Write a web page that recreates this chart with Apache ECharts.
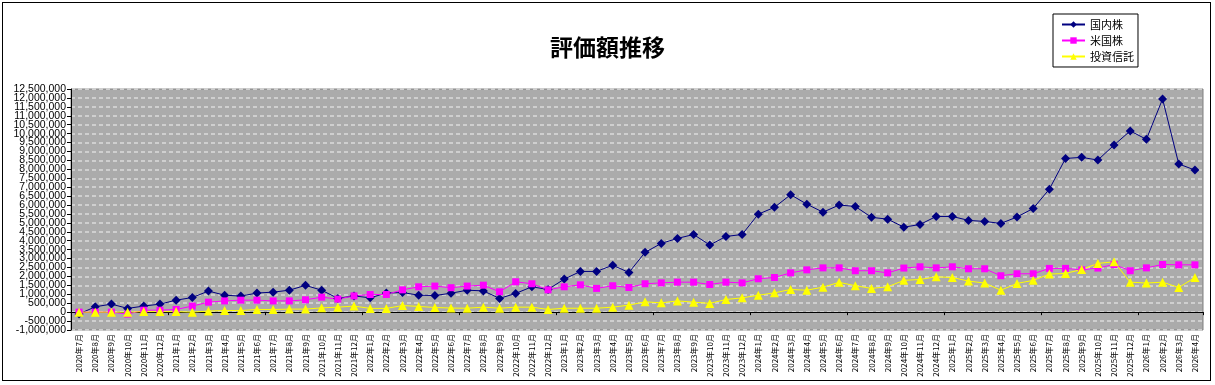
<!DOCTYPE html>
<html><head><meta charset="utf-8">
<script src="https://cdn.jsdelivr.net/npm/echarts@6/dist/echarts.min.js"></script>
<style>
html,body{margin:0;padding:0;background:#fff;}
#c{width:1215px;height:385px;position:relative;}
#frame{position:absolute;left:2px;top:2px;width:1209px;height:379px;border:1px solid #000;pointer-events:none;box-sizing:border-box;}
</style></head>
<body>
<div style="position:relative;width:1215px;height:385px;">
<div id="c"></div><div id="frame"></div>
</div>
<script>
// categories: 2020年7月 .. 2026年4月
const categories = [];
(function(){ let y=2020, m=7; for(let k=0;k<70;k++){ categories.push(y+'年'+m+'月'); m++; if(m>12){m=1;y++;} } })();

const domestic = [ // 国内株
 -100000,300000,450000,210000,340000,450000,670000,820000,1180000,950000,
 900000,1070000,1120000,1230000,1500000,1230000,770000,910000,800000,1070000,
 1100000,950000,930000,1060000,1230000,1190000,770000,1050000,1420000,1270000,
 1850000,2280000,2280000,2630000,2220000,3350000,3850000,4130000,4350000,3760000,
 4240000,4350000,5490000,5870000,6580000,6050000,5600000,6000000,5920000,5310000,
 5210000,4760000,4910000,5360000,5360000,5140000,5080000,4970000,5330000,5810000,
 6890000,8610000,8670000,8520000,9360000,10150000,9680000,11940000,8300000,7960000
];
const usStocks = [ // 米国株
 0,0,0,-110000,110000,110000,150000,340000,560000,630000,
 670000,670000,630000,630000,690000,840000,730000,910000,990000,990000,
 1250000,1420000,1460000,1370000,1460000,1510000,1140000,1700000,1590000,1250000,
 1420000,1530000,1330000,1480000,1380000,1590000,1640000,1680000,1680000,1550000,
 1680000,1640000,1870000,1940000,2200000,2370000,2480000,2480000,2320000,2320000,
 2200000,2470000,2540000,2480000,2540000,2430000,2430000,2040000,2150000,2150000,
 2450000,2450000,2370000,2470000,2670000,2320000,2480000,2670000,2650000,2650000
];
const funds = [ // 投資信託
 0,0,0,0,30000,30000,30000,0,60000,90000,
 90000,150000,150000,170000,170000,240000,280000,340000,210000,210000,
 370000,320000,260000,230000,220000,280000,220000,280000,280000,150000,
 220000,220000,220000,280000,390000,580000,520000,630000,560000,490000,
 710000,800000,950000,1080000,1270000,1230000,1400000,1670000,1480000,1330000,
 1420000,1780000,1830000,1980000,1940000,1740000,1630000,1230000,1610000,1780000,
 2130000,2170000,2390000,2730000,2820000,1680000,1630000,1680000,1380000,1940000
];
const seriesNames = ['国内株','米国株','投資信託'];
const yMin = -1000000, yMax = 12500000, yStep = 500000;

const chart = echarts.init(document.getElementById('c'));
const FONT = '"Noto Sans CJK JP", "Noto Sans", sans-serif';
const yLabelBase = {fontSize:10.5,color:'#000',margin:5,
  fontFamily:'"Liberation Sans", Arial, sans-serif'};
chart.setOption({
  animation:false,
  textStyle:{fontFamily:FONT},
  title:{text:'評価額推移',left:'center',top:31,
    textStyle:{fontSize:23,fontWeight:'bold',color:'#000',fontFamily:FONT}},
  legend:{
    orient:'vertical',left:1053,top:14,
    data:seriesNames,
    itemWidth:23,itemHeight:8,itemGap:5,
    padding:[5,4,5,8],
    borderColor:'#000',borderWidth:1,
    textStyle:{fontSize:11,color:'#000',fontFamily:FONT}
  },
  grid:{left:71,right:12,top:89,bottom:55,show:true,
    backgroundColor:'#ababab',borderColor:'#808080',borderWidth:1},
  xAxis:[
    {type:'category',data:categories,position:'bottom',boundaryGap:true,
     axisLine:{onZero:true,lineStyle:{color:'#000',width:1}},
     axisTick:{show:true,length:3,inside:false,lineStyle:{color:'#000'}},
     axisLabel:{show:false},splitLine:{show:false}},
    {type:'category',data:categories,position:'bottom',boundaryGap:true,
     axisLine:{show:false,onZero:false},axisTick:{show:false},
     axisLabel:{show:true,rotate:90,fontSize:8,color:'#000',margin:4,interval:0,fontFamily:FONT},
     splitLine:{show:false}}
  ],
  yAxis:[
    {type:'value',min:yMin,max:yMax,interval:yStep,position:'left',
     axisLine:{show:true,onZero:false,lineStyle:{color:'#000'}},
     axisTick:{show:true,length:4,lineStyle:{color:'#000'}},
     axisLabel:Object.assign({},yLabelBase,{showMinLabel:true,showMaxLabel:true,
       formatter:v=>(v===yMin||v===yMax)?v.toLocaleString('en-US'):''}),
     splitLine:{show:true,lineStyle:{color:'#cfcfcf',width:2,type:[4,3]}}},
    {type:'value',min:yMin,max:yMax,interval:yStep,position:'left',offset:0,
     axisLine:{show:false,onZero:false},axisTick:{show:false},
     axisLabel:Object.assign({},yLabelBase,{showMinLabel:false,showMaxLabel:false,
       formatter:v=>v.toLocaleString('en-US')}),
     splitLine:{show:false}}
  ],
  series:[
    {name:seriesNames[0],type:'line',data:domestic,xAxisIndex:0,yAxisIndex:0,symbol:'diamond',symbolSize:9,
     itemStyle:{color:'#000080'},lineStyle:{color:'#000080',width:1}},
    {name:seriesNames[1],type:'line',data:usStocks,xAxisIndex:0,yAxisIndex:0,symbol:'rect',symbolSize:7,
     itemStyle:{color:'#ff00ff'},lineStyle:{color:'#ff00ff',width:1}},
    {name:seriesNames[2],type:'line',data:funds,xAxisIndex:0,yAxisIndex:0,symbol:'triangle',symbolSize:9,
     itemStyle:{color:'#ffff00'},lineStyle:{color:'#ffff00',width:1}}
  ]
});
</script>
</body></html>
